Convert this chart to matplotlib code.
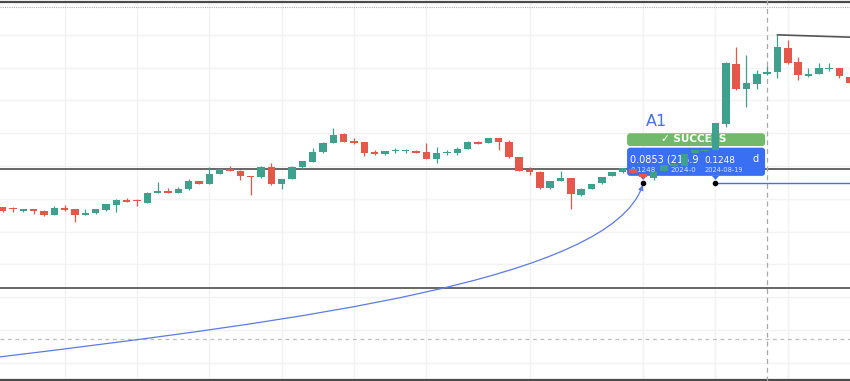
import numpy as np
import matplotlib.pyplot as plt
from matplotlib.patches import FancyBboxPatch, FancyArrowPatch, Polygon
from matplotlib.path import Path

OUTPUT_PATH = 'out.png'

# daily OHLC (83 candles, left to right)
opens = [0.1174, 0.1169, 0.1163, 0.1169, 0.1164, 0.1151, 0.1173, 0.1168, 0.1151, 0.1156,
         0.1166, 0.1182, 0.1197, 0.1194, 0.1188, 0.1218, 0.1225, 0.1218, 0.1229, 0.1254,
         0.1245, 0.1276, 0.1292, 0.1286, 0.1270, 0.1266, 0.1298, 0.1244, 0.1260, 0.1298,
         0.1313, 0.1342, 0.1371, 0.1397, 0.1375, 0.1372, 0.1342, 0.1336, 0.1346, 0.1345,
         0.1347, 0.1342, 0.1321, 0.1340, 0.1339, 0.1353, 0.1374, 0.1370, 0.1385, 0.1374,
         0.1327, 0.1288, 0.1283, 0.1232, 0.1254, 0.1262, 0.1211, 0.1231, 0.1247, 0.1270,
         0.1281, 0.1290, 0.1276, 0.1262, 0.1285, 0.1300, 0.1300, 0.1341, 0.1346, 0.1349,
         0.1428, 0.1611, 0.1534, 0.1549, 0.1581, 0.1587, 0.1659, 0.1616, 0.1575, 0.1581,
         0.1597, 0.1598, 0.1572]
highs = [0.1176, 0.1176, 0.1170, 0.1170, 0.1165, 0.1178, 0.1181, 0.1169, 0.1170, 0.1169,
         0.1184, 0.1198, 0.1202, 0.1201, 0.1220, 0.1250, 0.1234, 0.1237, 0.1259, 0.1255,
         0.1298, 0.1291, 0.1300, 0.1287, 0.1271, 0.1299, 0.1308, 0.1261, 0.1299, 0.1316,
         0.1354, 0.1372, 0.1415, 0.1402, 0.1384, 0.1373, 0.1349, 0.1347, 0.1354, 0.1351,
         0.1348, 0.1371, 0.1359, 0.1349, 0.1359, 0.1375, 0.1375, 0.1387, 0.1387, 0.1379,
         0.1328, 0.1296, 0.1284, 0.1255, 0.1286, 0.1263, 0.1232, 0.1245, 0.1268, 0.1282,
         0.1294, 0.1291, 0.1277, 0.1284, 0.1304, 0.1309, 0.1338, 0.1350, 0.1352, 0.1432,
         0.1618, 0.1664, 0.1639, 0.1593, 0.1605, 0.1700, 0.1684, 0.1633, 0.1598, 0.1613,
         0.1613, 0.1599, 0.1573]
lows = [0.1161, 0.1160, 0.1161, 0.1154, 0.1149, 0.1150, 0.1164, 0.1130, 0.1150, 0.1155,
        0.1164, 0.1161, 0.1190, 0.1178, 0.1187, 0.1217, 0.1217, 0.1217, 0.1228, 0.1244,
        0.1244, 0.1275, 0.1284, 0.1257, 0.1212, 0.1265, 0.1243, 0.1229, 0.1259, 0.1290,
        0.1312, 0.1341, 0.1370, 0.1373, 0.1366, 0.1331, 0.1335, 0.1335, 0.1339, 0.1341,
        0.1340, 0.1320, 0.1310, 0.1334, 0.1334, 0.1352, 0.1367, 0.1369, 0.1349, 0.1326,
        0.1284, 0.1273, 0.1231, 0.1231, 0.1253, 0.1170, 0.1210, 0.1230, 0.1246, 0.1269,
        0.1280, 0.1278, 0.1262, 0.1257, 0.1284, 0.1297, 0.1299, 0.1340, 0.1345, 0.1348,
        0.1420, 0.1533, 0.1481, 0.1534, 0.1579, 0.1567, 0.1612, 0.1562, 0.1572, 0.1580,
        0.1591, 0.1567, 0.1550]
closes = [0.1164, 0.1168, 0.1169, 0.1162, 0.1151, 0.1172, 0.1166, 0.1151, 0.1158, 0.1168,
          0.1183, 0.1195, 0.1191, 0.1193, 0.1219, 0.1225, 0.1218, 0.1230, 0.1253, 0.1245,
          0.1276, 0.1290, 0.1285, 0.1270, 0.1266, 0.1298, 0.1244, 0.1260, 0.1298, 0.1315,
          0.1344, 0.1371, 0.1395, 0.1374, 0.1369, 0.1339, 0.1336, 0.1346, 0.1347, 0.1346,
          0.1341, 0.1321, 0.1339, 0.1341, 0.1353, 0.1374, 0.1368, 0.1385, 0.1374, 0.1327,
          0.1285, 0.1281, 0.1232, 0.1254, 0.1262, 0.1214, 0.1231, 0.1244, 0.1267, 0.1281,
          0.1293, 0.1279, 0.1266, 0.1283, 0.1303, 0.1306, 0.1337, 0.1349, 0.1350, 0.1431,
          0.1613, 0.1535, 0.1552, 0.1581, 0.1588, 0.1662, 0.1613, 0.1578, 0.1581, 0.1598,
          0.1599, 0.1575, 0.1552]

# chart drawings
levels_solid = [0.1291, 0.0928]
level_dotted = 0.0772
grid_prices = [0.07, 0.08, 0.09, 0.10, 0.11, 0.12, 0.13, 0.14, 0.15, 0.16, 0.17]
grid_idx = [6, 13, 20, 27, 34, 41, 51, 62, 69, 76]
cursor_idx = 74
entry_idx, target_idx = 62, 69
target_price = 0.1248
trend_start, trend_end = (75, 0.1700), (82.0, 0.1693)
curve_pts = [(-0.26, 0.0718), (28.8, 0.0830), (58.8, 0.0952), (61.95, 0.1242)]

UP = '#3fa08e'
DOWN = '#e5574b'
BLUE = '#3b6ff3'
GREEN_BOX = '#72b96c'

x = np.arange(len(opens))
o = np.array(opens)
c = np.array(closes)
colors = [UP if cc >= oo else DOWN for oo, cc in zip(o, c)]

fig = plt.figure(figsize=(8.5, 3.81), dpi=100)
ax = fig.add_axes([0, 0, 1, 1])
ax.set_xlim(-0.261, 82.02)
ax.set_ylim(0.06445, 0.18063)
ax.set_xticks(grid_idx)
ax.set_yticks(grid_prices)
ax.grid(color='#f1f2f4', linewidth=1)
ax.tick_params(length=0, labelbottom=False, labelleft=False)
for s in ax.spines.values():
    s.set_visible(False)
ax.set_axisbelow(True)

# frame lines
ax.axhline(0.1800, color='#4a4a4a', lw=1.6, zorder=1)
ax.axhline(0.1785, color='#b0b0b0', lw=0.8, ls=(0, (1, 1)), zorder=1)
ax.axhline(0.0647, color='#4a4a4a', lw=1.6, zorder=1)
for lv in levels_solid:
    ax.axhline(lv, color='#5a5a5a', lw=1.3, zorder=1)
ax.axhline(level_dotted, color='#bdbdbd', lw=0.9, ls=(0, (3, 3)), zorder=1)
ax.axvline(cursor_idx, color='#a8a8a8', lw=0.9, ls=(0, (4, 3)), zorder=1)
ax.plot([trend_start[0], trend_end[0]], [trend_start[1], trend_end[1]], color='#555555', lw=1.2, zorder=1)

# blue curve with arrow into the entry point
codes = [Path.MOVETO, Path.CURVE4, Path.CURVE4, Path.CURVE4]
arrow = FancyArrowPatch(path=Path(curve_pts, codes), arrowstyle='-|>', mutation_scale=7,
                        color='#5b7be3', lw=0.9, zorder=2)
ax.add_patch(arrow)
ax.plot([target_idx, 82.5], [target_price, target_price], color='#4a70dc', lw=1, zorder=2)

# label boxes (px based sizes converted to data units)
px_x = 1 / 10.33
px_y = 0.000305
aspect = px_y / px_x
box_left, box_right = 60.44, 73.8
green_box = FancyBboxPatch((box_left, 0.1361), box_right - box_left, 0.1400 - 0.1361,
                           boxstyle='round,pad=0,rounding_size=0.3', mutation_aspect=aspect,
                           fc=GREEN_BOX, ec='none', zorder=3)
blue_box = FancyBboxPatch((box_left, 0.1270), box_right - box_left, 0.1356 - 0.1270,
                          boxstyle='round,pad=0,rounding_size=0.3', mutation_aspect=aspect,
                          fc=BLUE, ec='none', zorder=3)
ax.add_patch(green_box)
ax.add_patch(blue_box)
for idx in (entry_idx, target_idx):
    ax.add_patch(Polygon([(idx - 0.35, 0.1270), (idx + 0.35, 0.1270), (idx, 0.1270 - 4 * px_y)],
                         closed=True, fc=BLUE, ec='none', zorder=3))
ax.scatter([entry_idx, target_idx], [target_price, target_price], s=9, color='black', zorder=6)

ax.text(66.9, 0.1381, '✓ SUCCESS', color='white', fontsize=7.6, fontweight='bold',
        ha='center', va='center', zorder=4)
ax.text(60.73, 0.1320, '0.0853 (215.9', color='white', fontsize=7.0, ha='left', va='center', zorder=4)
ax.text(60.73, 0.1288, '0.1248', color='white', alpha=0.8, fontsize=5.2, ha='left', va='center', zorder=4)
ax.text(64.6, 0.1288, '2024-0', color='white', alpha=0.8, fontsize=5.2, ha='left', va='center', zorder=4)
ax.text(67.9, 0.1318, '0.1248', color='white', fontsize=6.4, ha='left', va='center', zorder=4)
ax.text(67.9, 0.1288, '2024-08-19', color='white', alpha=0.8, fontsize=4.8, ha='left', va='center', zorder=4)
ax.text(72.6, 0.1322, 'd', color='white', fontsize=7.0, ha='left', va='center', zorder=4)
ax.text(62.3, 0.1437, 'A1', color='#4a6fe6', fontsize=11.5, ha='left', va='center', zorder=4)

# candles
ax.vlines(x, lows, highs, colors=colors, lw=0.9, zorder=5)
body = np.maximum(np.abs(c - o), 0.0003)
ax.bar(x, body, bottom=np.minimum(o, c), width=0.72, color=colors, zorder=5)

fig.savefig(OUTPUT_PATH, dpi=100)
plt.close(fig)
